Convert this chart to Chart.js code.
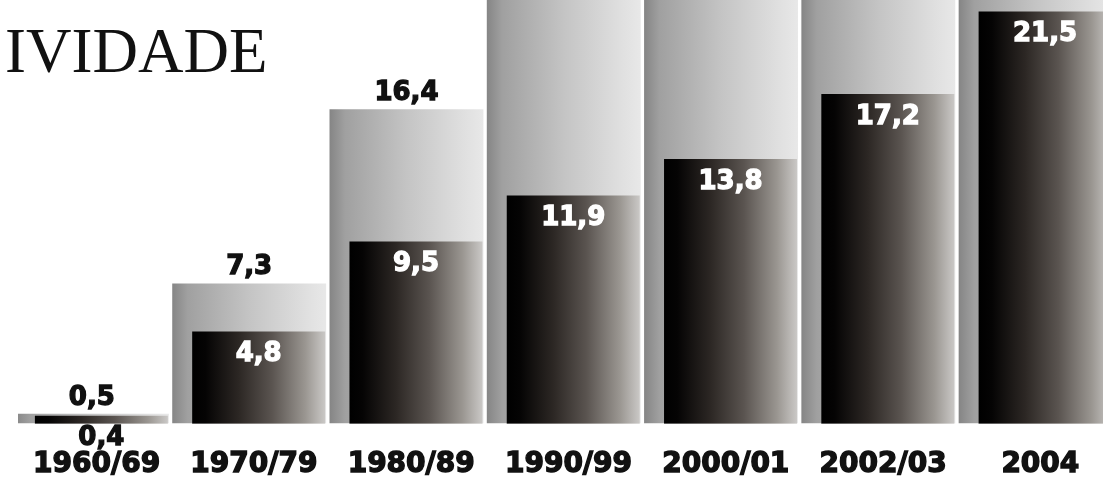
<!DOCTYPE html>
<html lang="pt-BR">
<head>
<meta charset="utf-8">
<title>Produtividade</title>
<script src="https://cdn.jsdelivr.net/npm/chart.js@4.4.1/dist/chart.umd.min.js"></script>
<style>
  html, body { margin: 0; padding: 0; background: #fff; overflow: hidden; }
  #wrap { position: relative; width: 1119px; height: 483px; }
  #titulo {
    position: absolute; left: 5px; top: 20px; z-index: 2;
    font-family: 'Liberation Serif', serif; font-size: 63px; line-height: 63px; color: #111;
  }
</style>
</head>
<body>
<div id="wrap">
  <div id="titulo">IVIDADE</div>
  <canvas id="grafico"></canvas>
</div>
<script>
// Periods on the x axis
const periodos = ['1960/69', '1970/79', '1980/89', '1990/99', '2000/01', '2002/03', '2004'];
// Tall grey bars behind (last four run off the top of the chart)
const valoresFundo = [0.5, 7.3, 16.4, 23.5, 25.0, 27.0, 29.0];
// Dark bars in front
const valoresFrente = [0.4, 4.8, 9.5, 11.9, 13.8, 17.2, 21.5];

const Y_MAX = 22.1;
const CAT_PCT = 0.1208;
const BAR_PCT = [16.2, 14.0]; // >1 so the two bars of a group overlap

const fmt = v => v.toFixed(1).replace('.', ',');

// left/right edges of a bar, worked out from the category scale
function barEdges(chart, d, i) {
  const x = chart.scales.x;
  const catW = x.width / periodos.length;
  const slot = catW * CAT_PCT / 2;
  const c = x.getPixelForValue(i) + (d === 0 ? -slot / 2 : slot / 2);
  const w = slot * BAR_PCT[d];
  return [c - w / 2, c + w / 2];
}

function gradiente(stops) {
  return function (ctx) {
    const chart = ctx.chart;
    if (!chart.chartArea || ctx.type !== 'data') return stops[0][1];
    const [l, r] = barEdges(chart, ctx.datasetIndex, ctx.dataIndex);
    const g = chart.ctx.createLinearGradient(l, 0, r, 0);
    stops.forEach(([p, c]) => g.addColorStop(p, c));
    return g;
  };
}

const corFundo = gradiente([
  [0, '#858585'], [0.1, '#a0a0a0'], [0.5, '#c4c4c4'], [0.88, '#e0e0e0'], [1, '#e8e8e8']
]);
const corFrente = gradiente([
  [0, '#000000'], [0.1, '#050404'], [0.35, '#2c2724'], [0.6, '#5a5450'], [0.85, '#9a9691'], [1, '#cac8c6']
]);

// Chart.js paints dataset 0 last, so the dark bars are painted again on top,
// then the value labels: black above the grey bars, white inside the dark ones
const rotulos = {
  id: 'rotulos',
  afterDatasetsDraw(chart) {
    chart.getDatasetMeta(1).controller.draw();
    const ctx = chart.ctx;
    const base = chart.scales.y.getPixelForValue(0);
    ctx.save();
    ctx.font = 'bold 26px "DejaVu Sans"';
    ctx.textAlign = 'center';
    ctx.textBaseline = 'middle';
    ctx.lineWidth = 1.3;
    const escreve = (txt, x, y, cor) => {
      ctx.fillStyle = cor;
      ctx.strokeStyle = cor;
      ctx.fillText(txt, x, y);
      ctx.strokeText(txt, x, y);
    };
    chart.data.datasets.forEach((ds, d) => {
      chart.getDatasetMeta(d).data.forEach((bar, i) => {
        const txt = fmt(ds.data[i]);
        if (d === 0) {
          const y = bar.y - 16;
          if (y < 12) return;
          escreve(txt, bar.x, y, '#111');
        } else if (base - bar.y < 30) {
          escreve(txt, bar.x, base + 15, '#111');
        } else {
          escreve(txt, bar.x, bar.y + 23, '#fff');
        }
      });
    });
    ctx.restore();
  }
};

new Chart(document.getElementById('grafico'), {
  type: 'bar',
  data: {
    labels: periodos,
    datasets: [
      { data: valoresFundo, backgroundColor: corFundo, barPercentage: BAR_PCT[0], categoryPercentage: CAT_PCT },
      { data: valoresFrente, backgroundColor: corFrente, barPercentage: BAR_PCT[1], categoryPercentage: CAT_PCT }
    ]
  },
  options: {
    responsive: true,
    maintainAspectRatio: false,
    animation: false,
    events: [],
    layout: { padding: { left: 18, right: 0, top: 0, bottom: -24 } },
    plugins: { legend: { display: false }, tooltip: { enabled: false } },
    scales: {
      x: {
        grid: { display: false, drawTicks: false },
        border: { display: false },
        ticks: {
          color: '#111',
          textStrokeColor: '#111',
          textStrokeWidth: 1.4,
          padding: 25,
          autoSkip: false,
          maxRotation: 0,
          font: { family: 'DejaVu Sans', weight: 'bold', size: 28 }
        }
      },
      y: { display: false, min: 0, max: Y_MAX }
    }
  },
  plugins: [rotulos]
});
</script>
</body>
</html>
